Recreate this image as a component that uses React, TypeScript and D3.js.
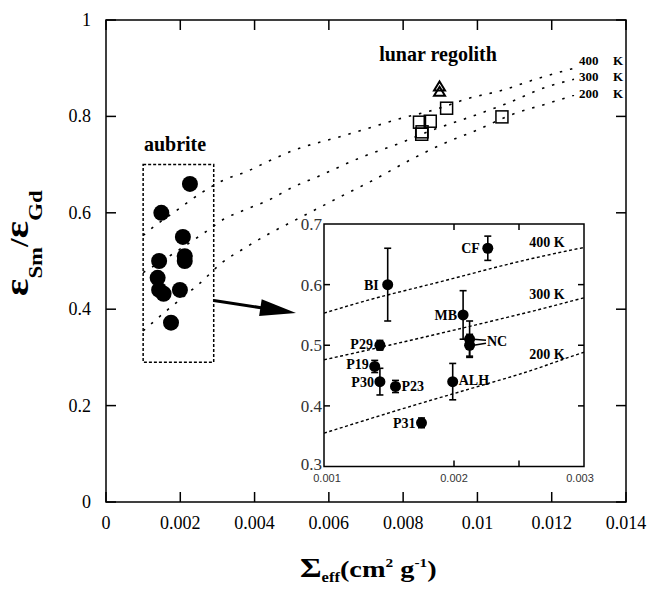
import React from 'react';
import * as d3 from 'd3';

const W = 647;
const H = 590;
const SERIF = "'Liberation Serif', 'Times New Roman', serif";
const SANS = "'Liberation Sans', Arial, sans-serif";

// Main panel axes
const mainXTicks = [0, 0.002, 0.004, 0.006, 0.008, 0.01, 0.012, 0.014];
const mainXTickLabels = ['0', '0.002', '0.004', '0.006', '0.008', '0.01', '0.012', '0.014'];
const mainYTicks = [0, 0.2, 0.4, 0.6, 0.8, 1];
const mainYTickLabels = ['0', '0.2', '0.4', '0.6', '0.8', '1'];

// Inset axes
const insetXLabelValues = [0.001, 0.002, 0.003];
const insetXTickLabels = ['0.001', '0.002', '0.003'];
const insetXTicks = [0.002, 0.0025];
const insetYLabelValues = [0.3, 0.4, 0.5, 0.6, 0.7];
const insetYTickLabels = ['0.3', '0.4', '0.5', '0.6', '0.7'];
const insetYTicks = [0.4, 0.5, 0.6];

// Aubrite samples: effective cross section, Sm/Gd ratio, 1-sigma error
const aubriteNames = ['CF', 'BI', 'MB', 'NC', 'NC', 'P29', 'P19', 'P30', 'P23', 'ALH', 'P31'];
const aubriteSigma = [0.00226, 0.00149, 0.00207, 0.00212, 0.00212, 0.00143, 0.00139, 0.00143, 0.00155, 0.00199, 0.00175];
const aubriteRatio = [0.66, 0.6, 0.55, 0.51, 0.5, 0.5, 0.465, 0.44, 0.432, 0.44, 0.372];
const aubriteErr = [0.02, 0.06, 0.04, 0.03, 0.018, 0.008, 0.01, 0.022, 0.01, 0.03, 0.008];

// Lunar regolith samples
const regolithSquareSigma = [0.00917, 0.00873, 0.00844, 0.00851, 0.0085, 0.01066];
const regolithSquareRatio = [0.817, 0.79, 0.788, 0.768, 0.763, 0.799];
const regolithTriangleSigma = [0.00898, 0.00898];
const regolithTriangleRatio = [0.862, 0.851];

// Model curves for three neutron temperatures
const modelLabels = ['400 K', '300 K', '200 K'];
const model400Sigma = [0.001, 0.0013, 0.0019, 0.0026, 0.0032, 0.0038, 0.0044, 0.005, 0.0063, 0.007, 0.0079, 0.0089, 0.0097, 0.0107, 0.0116, 0.0126];
const model400Ratio = [0.553, 0.572, 0.605, 0.643, 0.669, 0.686, 0.708, 0.728, 0.758, 0.774, 0.795, 0.815, 0.836, 0.855, 0.878, 0.9];
const model300Sigma = [0.001, 0.0015, 0.002, 0.0026, 0.0032, 0.0038, 0.0044, 0.005, 0.0057, 0.0069, 0.0079, 0.0088, 0.0097, 0.0107, 0.0119, 0.0126];
const model300Ratio = [0.476, 0.5, 0.525, 0.556, 0.588, 0.608, 0.627, 0.652, 0.675, 0.716, 0.744, 0.772, 0.796, 0.824, 0.862, 0.877];
const model200Sigma = [0.001, 0.0016, 0.0022, 0.0025, 0.0031, 0.0038, 0.0044, 0.005, 0.0057, 0.0063, 0.0072, 0.0081, 0.0091, 0.01, 0.0109, 0.0119, 0.0126];
const model200Ratio = [0.355, 0.395, 0.433, 0.452, 0.495, 0.53, 0.557, 0.581, 0.609, 0.633, 0.668, 0.706, 0.744, 0.772, 0.803, 0.827, 0.844];

const modelSigma = [model400Sigma, model300Sigma, model200Sigma];
const modelRatio = [model400Ratio, model300Ratio, model200Ratio];

// Aubrite selection box (data units)
const boxSigma = [0.001, 0.0029];
const boxRatio = [0.29, 0.7];

export default function App() {
  const x = d3.scaleLinear().domain([0, 0.014]).range([106, 626]);
  const y = d3.scaleLinear().domain([0, 1]).range([502, 20]);
  const xi = d3.scaleLinear().domain([0.001, 0.003]).range([324, 584]);
  const yi = d3.scaleLinear().domain([0.3, 0.7]).range([466.5, 224]);

  const mainLine = d3
    .line<[number, number]>()
    .x((d) => x(d[0]))
    .y((d) => y(d[1]))
    .curve(d3.curveMonotoneX);
  const insetLine = d3
    .line<[number, number]>()
    .x((d) => xi(d[0]))
    .y((d) => yi(d[1]))
    .curve(d3.curveMonotoneX);

  const curves = modelSigma.map((xs, k) => xs.map((v, i) => [v, modelRatio[k][i]] as [number, number]));

  const [x0, x1] = xi.range();
  const [yb, yt] = yi.range();

  // arrow from the aubrite box to the inset
  const ax0 = x(boxSigma[1]);
  const ay0 = y(0.418);
  const tipX = 296;
  const tipY = 313;
  const dx = tipX - ax0;
  const dy = tipY - ay0;
  const len = Math.hypot(dx, dy);
  const ux = dx / len;
  const uy = dy / len;
  const headLen = 36;
  const headHalf = 8.5;
  const bx = tipX - ux * headLen;
  const by = tipY - uy * headLen;

  // label placement for inset points: [anchor, dx, dy]
  const labelPos: Record<string, [string, number, number]> = {
    CF: ['end', -8, 5],
    BI: ['end', -9, 5],
    MB: ['end', -6, 5],
    P29: ['end', -7, 4],
    P19: ['end', -6, 3],
    P30: ['end', -6, 5],
    P23: ['start', 6, 5],
    ALH: ['start', 6, 3],
    P31: ['end', -6, 5],
  };

  const ncIdx = aubriteNames.map((n, i) => (n === 'NC' ? i : -1)).filter((i) => i >= 0);
  const ncLabelX = 487;
  const ncLabelY = yi(0.505) + 4;

  const mainLabelDy = [-3, 2, 3];
  const insetLabelDy = [-4, -3, 2];

  return (
    <svg
      width={W}
      height={H}
      style={{ display: 'block', position: 'absolute', left: 0, top: 0, background: '#fff' }}
    >
      <rect width={W} height={H} fill="#fff" />
      <defs>
        <clipPath id="insetClip">
          <rect x={x0} y={yt} width={x1 - x0} height={yb - yt} />
        </clipPath>
      </defs>

      {/* main frame */}
      <rect x={106} y={20} width={520} height={482} fill="none" stroke="#000" strokeWidth={1.5} />
      {mainXTicks.map((t, i) => (
        <g key={'mx' + i}>
          <line x1={x(t)} x2={x(t)} y1={502} y2={492} stroke="#000" strokeWidth={1.5} />
          <line x1={x(t)} x2={x(t)} y1={20} y2={30} stroke="#000" strokeWidth={1.5} />
          <text x={x(t)} y={529} textAnchor="middle" fontFamily={SERIF} fontSize={18}>
            {mainXTickLabels[i]}
          </text>
        </g>
      ))}
      {mainYTicks.map((t, i) => (
        <g key={'my' + i}>
          <line x1={106} x2={116} y1={y(t)} y2={y(t)} stroke="#000" strokeWidth={1.5} />
          <line x1={626} x2={616} y1={y(t)} y2={y(t)} stroke="#000" strokeWidth={1.5} />
          <text x={91} y={y(t) + 6} textAnchor="end" fontFamily={SERIF} fontSize={18}>
            {mainYTickLabels[i]}
          </text>
        </g>
      ))}

      {/* model curves */}
      {curves.map((c, k) => (
        <path
          key={'mc' + k}
          d={mainLine(c) || ''}
          fill="none"
          stroke="#000"
          strokeWidth={1.6}
          strokeDasharray="2.5,8"
        />
      ))}
      {modelLabels.map((lab, k) => {
        const c = curves[k];
        const last = c[c.length - 1];
        const [num, unit] = lab.split(' ');
        const ty = y(last[1]) + mainLabelDy[k];
        return (
          <g key={'ml' + k} fontFamily={SERIF} fontWeight="bold" fontSize={13}>
            <text x={x(last[0]) + 5} y={ty}>{num}</text>
            <text x={x(last[0]) + 39} y={ty}>{unit}</text>
          </g>
        );
      })}

      {/* aubrite selection box */}
      <rect
        x={x(boxSigma[0])}
        y={y(boxRatio[1])}
        width={x(boxSigma[1]) - x(boxSigma[0])}
        height={y(boxRatio[0]) - y(boxRatio[1])}
        fill="none"
        stroke="#000"
        strokeWidth={1.5}
        strokeDasharray="3,2"
      />
      <text x={175} y={151} textAnchor="middle" fontFamily={SERIF} fontWeight="bold" fontSize={20}>
        aubrite
      </text>
      {aubriteSigma.map((s, i) => (
        <circle key={'ma' + i} cx={x(s)} cy={y(aubriteRatio[i])} r={8} fill="#000" />
      ))}

      {/* lunar regolith */}
      <text x={438} y={61} textAnchor="middle" fontFamily={SERIF} fontWeight="bold" fontSize={20}>
        lunar regolith
      </text>
      {regolithSquareSigma.map((s, i) => (
        <rect
          key={'sq' + i}
          x={x(s) - 6}
          y={y(regolithSquareRatio[i]) - 6}
          width={12}
          height={12}
          fill="none"
          stroke="#000"
          strokeWidth={1.5}
        />
      ))}
      {regolithTriangleSigma.map((s, i) => {
        const cx = x(s);
        const cy = y(regolithTriangleRatio[i]);
        return (
          <path
            key={'tr' + i}
            d={`M${cx},${cy - 5} L${cx + 5.5},${cy + 4} L${cx - 5.5},${cy + 4} Z`}
            fill="none"
            stroke="#000"
            strokeWidth={2}
          />
        );
      })}

      {/* arrow */}
      <line x1={ax0} y1={ay0} x2={bx + ux * 2} y2={by + uy * 2} stroke="#000" strokeWidth={3} />
      <path
        d={`M${tipX},${tipY} L${bx - uy * headHalf},${by + ux * headHalf} L${bx + uy * headHalf},${by - ux * headHalf} Z`}
        fill="#000"
      />

      {/* inset */}
      <rect x={x0} y={yt} width={x1 - x0} height={yb - yt} fill="#fff" stroke="#000" strokeWidth={1.5} />
      {insetXTicks.map((t, i) => (
        <g key={'ixt' + i}>
          <line x1={xi(t)} x2={xi(t)} y1={yb} y2={yb - 6} stroke="#000" strokeWidth={1.5} />
          <line x1={xi(t)} x2={xi(t)} y1={yt} y2={yt + 6} stroke="#000" strokeWidth={1.5} />
        </g>
      ))}
      {insetXLabelValues.map((t, i) => (
        <text key={'ixl' + i} x={xi(t) + (i === 0 ? 3 : i === 2 ? -4 : 0)} y={482} textAnchor="middle" fontFamily={SANS} fontSize={11} fill="#333">
          {insetXTickLabels[i]}
        </text>
      ))}
      {insetYTicks.map((t, i) => (
        <g key={'iyt' + i}>
          <line x1={x0} x2={x0 + 6} y1={yi(t)} y2={yi(t)} stroke="#000" strokeWidth={1.5} />
          <line x1={x1} x2={x1 - 6} y1={yi(t)} y2={yi(t)} stroke="#000" strokeWidth={1.5} />
        </g>
      ))}
      {insetYLabelValues.map((t, i) => (
        <text key={'iyl' + i} x={322} y={yi(t) + (i === 0 ? 3 : 6)} textAnchor="end" fontFamily={SERIF} fontSize={17} fill="#333">
          {insetYTickLabels[i]}
        </text>
      ))}

      <g clipPath="url(#insetClip)">
        {curves.map((c, k) => (
          <path
            key={'ic' + k}
            d={insetLine(c) || ''}
            fill="none"
            stroke="#000"
            strokeWidth={1.4}
            strokeDasharray="3,2.5"
          />
        ))}
      </g>
      {modelLabels.map((lab, k) => {
        const c = curves[k];
        const yAt = d3.scaleLinear().domain(c.map((d) => d[0])).range(c.map((d) => d[1]));
        return (
          <text
            key={'il' + k}
            x={547}
            y={yi(yAt(0.0029)) + insetLabelDy[k]}
            textAnchor="middle"
            fontFamily={SERIF}
            fontWeight="bold"
            fontSize={14}
          >
            {lab}
          </text>
        );
      })}

      {aubriteSigma.map((s, i) => {
        const cx = xi(s);
        const cy = yi(aubriteRatio[i]);
        const top = yi(aubriteRatio[i] + aubriteErr[i]);
        const bot = yi(aubriteRatio[i] - aubriteErr[i]);
        return (
          <g key={'ia' + i}>
            <line x1={cx} x2={cx} y1={top} y2={bot} stroke="#000" strokeWidth={1.6} />
            <line x1={cx - 3.5} x2={cx + 3.5} y1={top} y2={top} stroke="#000" strokeWidth={1.6} />
            <line x1={cx - 3.5} x2={cx + 3.5} y1={bot} y2={bot} stroke="#000" strokeWidth={1.6} />
            <circle cx={cx} cy={cy} r={5.5} fill="#000" />
          </g>
        );
      })}
      {aubriteNames.map((n, i) => {
        const p = labelPos[n];
        if (!p) return null;
        return (
          <text
            key={'lab' + i}
            x={xi(aubriteSigma[i]) + p[1]}
            y={yi(aubriteRatio[i]) + p[2]}
            textAnchor={p[0] as any}
            fontFamily={SERIF}
            fontWeight="bold"
            fontSize={14}
          >
            {n}
          </text>
        );
      })}
      {ncIdx.map((i, j) => (
        <line
          key={'ncl' + i}
          x1={xi(aubriteSigma[i]) + 4}
          y1={yi(aubriteRatio[i])}
          x2={ncLabelX - 1}
          y2={ncLabelY - 6 + j * 3}
          stroke="#000"
          strokeWidth={1.4}
        />
      ))}
      <text x={ncLabelX} y={ncLabelY} fontFamily={SERIF} fontWeight="bold" fontSize={14}>
        NC
      </text>

      {/* y axis title */}
      <text
        transform="translate(28,296) rotate(-90) scale(1.2,1)"
        fontFamily={SERIF}
        fontWeight="bold"
        fontSize={34}
      >
        <tspan>ε</tspan>
        <tspan fontSize={19} dy={14}>Sm</tspan>
        <tspan fontSize={26} dy={-14}>/</tspan>
        <tspan>ε</tspan>
        <tspan fontSize={19} dy={14}>Gd</tspan>
      </text>

      {/* x axis title */}
      <text
        transform="translate(300,577) scale(1.18,1)"
        fontFamily={SERIF}
        fontWeight="bold"
        fontSize={24}
      >
        <tspan fontSize={28}>Σ</tspan>
        <tspan fontSize={14} dy={5}>eff</tspan>
        <tspan dy={-5}>(cm</tspan>
        <tspan fontSize={13} dy={-10}>2</tspan>
        <tspan dy={10}> g</tspan>
        <tspan fontSize={13} dy={-10}>-1</tspan>
        <tspan dy={10}>)</tspan>
      </text>
    </svg>
  );
}
